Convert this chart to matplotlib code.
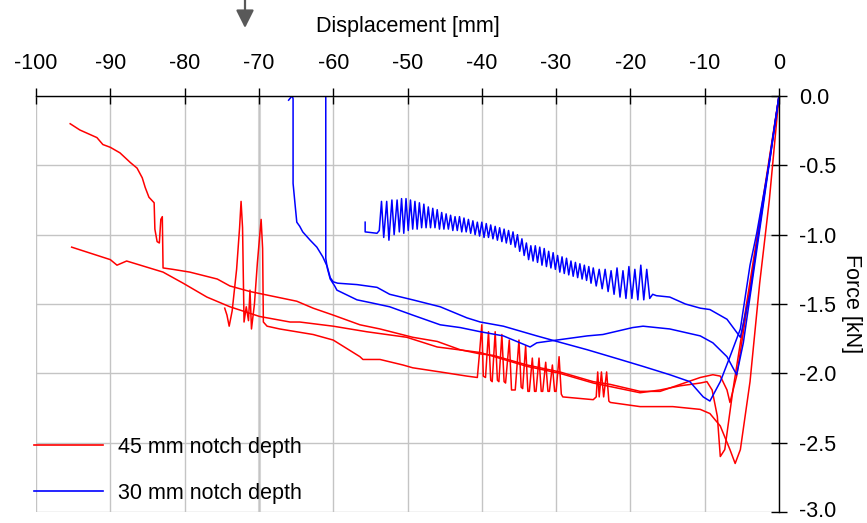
import matplotlib
matplotlib.use("Agg")
import matplotlib.pyplot as plt
import numpy as np
from matplotlib.lines import Line2D
from matplotlib.transforms import ScaledTranslation

plt.rcParams['font.family'] = ['Liberation Sans', 'DejaVu Sans']
plt.rcParams['axes.unicode_minus'] = False

# ---------------- data (displacement mm, force kN) ----------------
x_ticks = [-100, -90, -80, -70, -60, -50, -40, -30, -20, -10, 0]
y_ticks = [0.0, -0.5, -1.0, -1.5, -2.0, -2.5, -3.0]
legend_labels = ["45 mm notch depth", "30 mm notch depth"]

# 45 mm notch depth, test 1
r1_x = [-95.4, -94.1, -91.8, -91.0, -90.0, -88.7, -87.3, -86.4, -85.7, -85.3, -84.8, -84.1,
        -84.0, -83.7, -83.4, -83.2, -83.0, -82.9, -81.6, -79.3, -75.6, -73.9, -71.2, -69.4,
        -64.9, -62.7, -60.0, -56.4, -53.7, -49.3, -46.0, -42.9, -40.2, -38.5, -33.9, -29.5,
        -25.0, -22.7, -18.7, -16.0, -13.3, -10.6, -8.9, -7.9, -7.0, -6.6, -5.7, -2.8, 0.0]
r1_y = [-0.20, -0.245, -0.30, -0.35, -0.37, -0.41, -0.48, -0.52, -0.59, -0.66, -0.73, -0.77,
        -0.96, -1.05, -1.06, -0.89, -0.87, -1.24, -1.25, -1.27, -1.32, -1.37, -1.41, -1.43,
        -1.48, -1.53, -1.58, -1.65, -1.68, -1.74, -1.77, -1.83, -1.86, -1.87, -1.94, -1.99,
        -2.06, -2.08, -2.13, -2.13, -2.08, -2.03, -2.01, -2.02, -2.12, -2.21, -2.02, -1.0, 0.0]

# 45 mm notch depth, test 2
r2_x = [-95.2, -90.0, -89.1, -87.8, -82.9, -80.2, -77.0, -73.9, -69.9, -65.8, -64.5, -60.0,
        -55.5, -50.1, -46.0, -40.2, -33.9, -29.5, -25.0, -18.7, -16.0, -13.3, -10.6, -9.7,
        -9.0, -8.3, -7.9, -7.3, -6.2, -2.9, 0.0]
r2_y = [-1.09, -1.18, -1.22, -1.19, -1.27, -1.35, -1.45, -1.52, -1.59, -1.63, -1.63, -1.66,
        -1.70, -1.74, -1.81, -1.85, -1.95, -2.00, -2.07, -2.14, -2.12, -2.09, -2.07, -2.06,
        -2.12, -2.31, -2.60, -2.55, -2.12, -1.0, 0.0]

# 45 mm notch depth, test 3
r3_x = [-74.6, -74.3, -74.0, -73.6, -73.0, -72.6, -72.4, -72.2, -72.0, -71.7, -71.4, -71.2,
        -71.0, -70.6, -70.2, -69.7, -69.5, -69.4, -68.9, -67.2, -62.7, -60.0, -56.4, -56.0,
        -53.7, -50.6, -49.3, -45.6, -42.0, -40.6,
        -40.3, -40.0, -39.8, -39.5, -39.1, -38.8, -38.6, -38.2, -37.9, -37.7, -37.3, -37.0,
        -36.8, -36.3, -36.0, -35.5, -35.0, -34.7, -34.5, -34.1, -33.8, -33.6, -33.2, -32.9,
        -32.7, -32.3, -32.0, -31.8, -31.4, -31.1, -30.9, -30.5, -30.2, -30.0, -29.6, -29.3,
        -29.1, -25.0, -24.6, -24.4, -24.2, -23.9, -23.6, -23.2, -22.9, -22.7,
        -18.7, -16.0, -14.3, -10.6, -9.3, -7.9, -6.6, -5.9, -5.2, -3.9, -2.6, -1.3, 0.0]
r3_y = [-1.53, -1.58, -1.66, -1.55, -1.25, -0.95, -0.76, -0.95, -1.63, -1.52, -1.62, -1.40,
        -1.68, -1.50, -1.20, -0.89, -1.10, -1.63, -1.66, -1.68, -1.72, -1.76, -1.88, -1.90,
        -1.90, -1.94, -1.96, -1.99, -2.02, -2.03,
        -1.85, -1.65, -2.02, -2.03, -1.70, -2.05, -2.06, -1.70, -2.05, -2.06, -1.72, -2.06,
        -2.07, -1.76, -2.12, -2.12, -1.76, -2.10, -2.11, -1.80, -2.13, -2.13, -1.89, -2.13,
        -2.13, -1.89, -2.13, -2.13, -1.92, -2.13, -2.13, -1.94, -2.13, -2.13, -1.88, -2.15,
        -2.17, -2.19, -2.17, -1.99, -2.17, -1.99, -2.17, -1.99, -2.20, -2.21,
        -2.24, -2.24, -2.24, -2.26, -2.29, -2.38, -2.55, -2.65, -2.55, -2.06, -1.35, -0.75, 0.0]

# 30 mm notch depth, test 1
b1_x = [-66.0, -65.7, -65.5, -65.4, -65.4, -65.1, -64.9, -64.5, -64.1, -63.1, -62.2, -61.4,
        -60.8, -60.4, -60.0, -59.4, -56.8, -54.1, -52.4, -49.3, -45.6, -42.0, -40.2, -37.1,
        -32.6, -29.9, -25.8, -21.4, -18.3, -14.7, -12.0, -10.2, -9.3, -7.9, -6.6, -5.2,
        -3.9, -3.0, -1.2, 0.0]
b1_y = [-0.03, -0.01, 0.0, -0.02, -0.63, -0.80, -0.91, -0.94, -0.98, -1.04, -1.09, -1.16,
        -1.23, -1.31, -1.34, -1.35, -1.36, -1.38, -1.43, -1.47, -1.52, -1.60, -1.63, -1.66,
        -1.73, -1.77, -1.83, -1.90, -1.95, -2.01, -2.06, -2.17, -2.20, -2.06, -1.88, -1.68,
        -1.22, -0.99, -0.45, 0.0]

# 30 mm notch depth, test 2
b2_x = [-61.0, -61.0, -60.8, -60.4, -59.8, -59.5, -56.8, -55.0, -52.4, -49.3, -45.6, -42.9,
        -40.2, -37.1, -33.5, -32.6, -29.9, -25.8, -23.7, -19.7, -18.3, -14.7, -10.6, -8.9,
        -7.0, -5.7, -4.8, -3.5, 0.0]
b2_y = [0.0, -1.17, -1.24, -1.32, -1.37, -1.40, -1.47, -1.49, -1.52, -1.58, -1.65, -1.67,
        -1.70, -1.73, -1.81, -1.78, -1.76, -1.73, -1.72, -1.67, -1.66, -1.68, -1.73, -1.78,
        -1.88, -2.01, -1.78, -1.30, 0.0]

# 30 mm notch depth, test 3 (oscillating)
b3_x = [-55.7, -55.7, -54.1, -53.8,
        -53.5, -53.2, -52.8, -52.5, -52.1, -51.8, -51.4, -51.1, -50.8, -50.5, -50.2, -49.9,
        -49.6, -49.3, -49.0, -48.7, -48.4, -48.1, -47.8, -47.5, -47.2, -46.9, -46.6, -46.3,
        -46.0, -45.7, -45.4, -45.1, -44.8, -44.5, -44.2, -43.9, -43.6, -43.3, -43.0, -42.7,
        -42.4, -42.1, -41.8, -41.5, -41.2, -40.9, -40.6, -40.3, -40.0, -39.7, -39.4, -39.1,
        -38.8, -38.5, -38.2, -37.9, -37.6, -37.3, -37.0, -36.7, -36.4, -36.1, -35.8, -35.5,
        -35.2, -34.9, -34.6, -34.3, -34.0, -33.7, -33.4, -33.1, -32.8, -32.5, -32.2, -31.9,
        -31.6, -31.3, -31.0, -30.7, -30.4, -30.1, -29.8, -29.5, -29.2, -28.9, -28.6, -28.3,
        -28.0, -27.7, -27.4, -27.1, -26.8, -26.5, -26.2, -25.9, -25.6, -25.3, -25.0, -24.6,
        -24.2, -23.8, -23.4, -23.0, -22.6, -22.2, -21.8, -21.4, -21.0, -20.6, -20.2, -19.8,
        -19.4, -19.0, -18.6, -18.2, -17.8, -17.4,
        -17.0, -16.5, -14.7, -12.6, -10.6, -9.3, -7.0, -5.2, -3.9, -3.0, 0.0]
b3_y = [-0.91, -0.98, -0.99, -0.97,
        -0.76, -1.02, -0.76, -1.04, -0.75, -1.00, -0.75, -0.98, -0.74, -0.99, -0.74, -0.97,
        -0.75, -0.96, -0.76, -0.96, -0.77, -0.95, -0.78, -0.95, -0.80, -0.95, -0.81, -0.95,
        -0.82, -0.96, -0.84, -0.96, -0.85, -0.96, -0.86, -0.97, -0.87, -0.97, -0.87, -0.98,
        -0.88, -0.98, -0.89, -0.99, -0.90, -1.00, -0.91, -1.01, -0.91, -1.02, -0.92, -1.02,
        -0.93, -1.03, -0.94, -1.04, -0.95, -1.05, -0.96, -1.06, -0.97, -1.07, -0.98, -1.09,
        -1.00, -1.12, -1.03, -1.15, -1.06, -1.18, -1.08, -1.19, -1.08, -1.20, -1.09, -1.22,
        -1.10, -1.23, -1.12, -1.24, -1.13, -1.25, -1.15, -1.27, -1.16, -1.28, -1.17, -1.29,
        -1.19, -1.30, -1.20, -1.31, -1.21, -1.32, -1.22, -1.33, -1.23, -1.35, -1.24, -1.37,
        -1.25, -1.39, -1.25, -1.41, -1.26, -1.43, -1.24, -1.45, -1.26, -1.46, -1.23, -1.46,
        -1.25, -1.47, -1.22, -1.47, -1.25, -1.46,
        -1.43, -1.44, -1.45, -1.50, -1.53, -1.54, -1.61, -1.74, -1.42, -1.08, 0.0]

RED = "#ff0000"
BLUE = "#0000ff"

# ---------------- figure ----------------
W, H = 867, 523
fig = plt.figure(figsize=(W / 100, H / 100), dpi=100)
ax = fig.add_axes([36 / W, 1 - 512 / H, (779 - 36) / W, (512 - 96) / H])

ax.set_xlim(-100, 0)
ax.set_ylim(-3.0, 0.0)

ax.axvline(-70, color="#dadada", lw=2.2, zorder=0.5)
ax.grid(True, color="#c4c4c4", lw=1.0)
ax.set_axisbelow(True)

lw = 1.1
for xs, ys in [(r1_x, r1_y), (r2_x, r2_y), (r3_x, r3_y)]:
    ax.plot(xs, ys, color=RED, lw=lw)
for xs, ys in [(b1_x, b1_y), (b2_x, b2_y), (b3_x, b3_y)]:
    ax.plot(xs, ys, color=BLUE, lw=lw)

ax.xaxis.tick_top()
ax.xaxis.set_label_position("top")
ax.yaxis.tick_right()
ax.yaxis.set_label_position("right")
ax.set_xticks(x_ticks)
ax.set_xticklabels([str(v) for v in x_ticks])
ax.set_yticks(y_ticks)
ax.set_yticklabels(["%.1f" % v for v in y_ticks])

fs = 15.5
ax.tick_params(axis="x", direction="inout", length=11, width=1.0, pad=10.5,
               labelsize=fs, colors="black")
ax.tick_params(axis="y", direction="inout", length=11, width=1.0, pad=9,
               labelsize=fs, colors="black")

# keep the bottom tick label fully inside the picture
last = ax.get_yticklabels()[-1]
last.set_transform(last.get_transform() + ScaledTranslation(0, 3 / 100, fig.dpi_scale_trans))

for s in ["left", "bottom"]:
    ax.spines[s].set_visible(False)
for s in ["top", "right"]:
    ax.spines[s].set_color("black")
    ax.spines[s].set_linewidth(1.0)

ax.set_xlabel("Displacement [mm]", fontsize=fs, labelpad=15)
ax.set_ylabel("Force [kN]", fontsize=fs, rotation=-90, labelpad=18)

handles = [Line2D([], [], color=RED, lw=1.2), Line2D([], [], color=BLUE, lw=1.2)]
leg = ax.legend(handles, legend_labels, loc="upper left",
                bbox_to_anchor=(34 / W, 1 - 437 / H), bbox_transform=fig.transFigure,
                frameon=False, fontsize=fs, borderpad=0, borderaxespad=0,
                handlelength=3.2, handletextpad=0.7, labelspacing=1.15)

# arrow at top
ax.annotate("", xy=(245 / W, 1 - 28 / H), xytext=(245 / W, 1.0),
            xycoords="figure fraction", textcoords="figure fraction",
            arrowprops=dict(arrowstyle="-|>,head_length=0.9,head_width=0.45",
                            color="#595959", lw=1.6, mutation_scale=12,
                            shrinkA=0, shrinkB=0))

fig.savefig("out.png", dpi=100)
